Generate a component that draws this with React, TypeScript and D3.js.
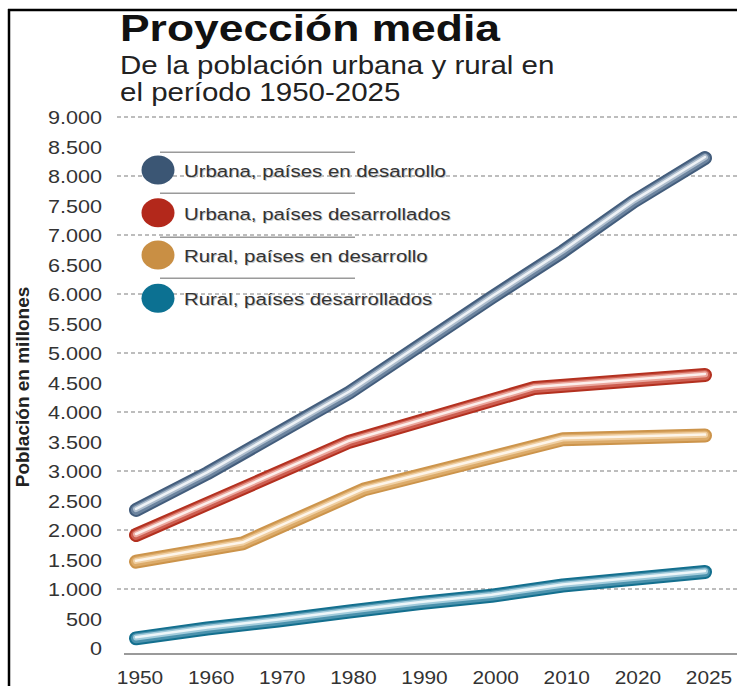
import React from "react";
import * as d3 from "d3";

const W = 737;
const H = 686;

// ---- data ----
const tickYears = [1950, 1960, 1970, 1980, 1990, 2000, 2010, 2020, 2025];
const yTickValues = d3.range(0, 9001, 500);
const gridValues = d3.range(1000, 9001, 1000);

const seriesNames = [
  "Urbana, países en desarrollo",
  "Urbana, países desarrollados",
  "Rural, países en desarrollo",
  "Rural, países desarrollados",
];

const urbanDevelopingYears = [1950, 1960, 1980, 2000, 2010, 2020, 2025];
const urbanDevelopingValues = [2340, 2960, 4330, 5940, 6720, 7570, 8305];

const urbanDevelopedYears = [1950, 1980, 2006, 2025];
const urbanDevelopedValues = [1915, 3497, 4407, 4627];

const ruralDevelopingYears = [1950, 1965, 1982, 2010, 2025];
const ruralDevelopingValues = [1463, 1775, 2685, 3537, 3600];

const ruralDevelopedYears = [1950, 1960, 1970, 1980, 1990, 2000, 2010, 2020, 2025];
const ruralDevelopedValues = [164, 330, 466, 619, 763, 886, 1059, 1174, 1288];

// ---- styles ----
const FONT = "'Liberation Sans', Arial, Helvetica, sans-serif";

const palettes = [
  { legend: "#3b5674", edge: "#435d7c", mid: "#6c849f", light: "#aebdcd", hi: "#eef2f6" },
  { legend: "#b3281b", edge: "#b3301f", mid: "#cd5e50", light: "#eba79d", hi: "#fcefec" },
  { legend: "#c98f44", edge: "#cc944b", mid: "#dcab6a", light: "#f0cfa2", hi: "#fdf5ea" },
  { legend: "#0c7192", edge: "#136f8e", mid: "#4b92ad", light: "#a2cbdb", hi: "#edf6f9" },
];

const seriesData = [
  { years: urbanDevelopingYears, values: urbanDevelopingValues },
  { years: urbanDevelopedYears, values: urbanDevelopedValues },
  { years: ruralDevelopingYears, values: ruralDevelopingValues },
  { years: ruralDevelopedYears, values: ruralDevelopedValues },
];

const X0 = 136;
const X1 = 705;
const xStep = (X1 - X0) / (tickYears.length - 1);
const xScale = d3
  .scaleLinear()
  .domain(tickYears)
  .range(tickYears.map((_, i) => X0 + i * xStep));
const yScale = d3.scaleLinear().domain([0, 9000]).range([648, 117]);

const fmt = d3
  .formatLocale({ decimal: ",", thousands: ".", grouping: [3], currency: ["", ""] })
  .format(",");

const lineGen = d3
  .line<[number, number]>()
  .x((d) => xScale(d[0]))
  .y((d) => yScale(d[1]))
  .curve(d3.curveLinear);

function SText(props: any) {
  const { x, y, sx = 1.2, anchor = "start", children, ...rest } = props;
  return (
    <text
      transform={`translate(${x},${y}) scale(${sx},1)`}
      textAnchor={anchor}
      fontFamily={FONT}
      {...rest}
    >
      {children}
    </text>
  );
}

function Tube({ d, p }: { d: string; p: any }) {
  const common = { d, fill: "none", strokeLinecap: "round" as const, strokeLinejoin: "round" as const };
  return (
    <g>
      <path {...common} stroke={p.edge} strokeWidth={14} />
      <path {...common} stroke={p.mid} strokeWidth={10} />
      <path {...common} stroke={p.light} strokeWidth={6} transform="translate(0,-0.8)" />
      <path {...common} stroke={p.hi} strokeWidth={2.5} transform="translate(0,-1)" />
    </g>
  );
}

export default function App() {
  const legendRowY = [170, 212.7, 255, 298.3];
  const legendSepY = [152.3, 193.3, 237.3, 278.3];

  return (
    <svg
      width={W}
      height={H}
      viewBox={`0 0 ${W} ${H}`}
      style={{ position: "absolute", left: 0, top: 0, display: "block", background: "#fff" }}
    >
      <rect x={0} y={0} width={W} height={H} fill="#fff" />
      {/* frame */}
      <line x1={8} x2={W} y1={10} y2={10} stroke="#000" strokeWidth={2.5} />
      <line x1={9} x2={9} y1={9} y2={H} stroke="#000" strokeWidth={2.5} />

      {/* titles */}
      <SText x={120} y={41} sx={1.2} fontSize={37} fontWeight="bold" fill="#111">
        Proyección media
      </SText>
      <SText x={120} y={74} sx={1.18} fontSize={25} fill="#222">
        De la población urbana y rural en
      </SText>
      <SText x={120} y={101} sx={1.18} fontSize={25} fill="#222">
        el período 1950-2025
      </SText>

      {/* grid */}
      {gridValues.map((v) => (
        <line
          key={v}
          x1={117}
          x2={W}
          y1={yScale(v)}
          y2={yScale(v)}
          stroke="#bdbdbd"
          strokeWidth={2}
          strokeDasharray="4 3"
        />
      ))}

      {/* baseline */}
      <line x1={124} x2={W} y1={654} y2={654} stroke="#9a9a9a" strokeWidth={2} />

      {/* y tick labels */}
      {yTickValues.map((v) => (
        <SText key={v} x={102} y={yScale(v) + 7} anchor="end" sx={1.2} fontSize={18} fill="#333">
          {fmt(v)}
        </SText>
      ))}

      {/* x tick labels */}
      {tickYears.map((yr) => (
        <SText key={yr} x={xScale(yr) + 4} y={683.5} anchor="middle" sx={1.16} fontSize={18} fill="#333">
          {yr}
        </SText>
      ))}

      {/* y axis title */}
      <text
        transform={`translate(29,387) rotate(-90)`}
        textAnchor="middle"
        fontFamily={FONT}
        fontSize={19}
        fontWeight="bold"
        fill="#222"
      >
        Población en millones
      </text>

      {/* legend */}
      {seriesNames.map((name, i) => (
        <g key={name}>
          <line x1={160} x2={355} y1={legendSepY[i]} y2={legendSepY[i]} stroke="#9a9a9a" strokeWidth={1.5} />
          <ellipse cx={158} cy={legendRowY[i]} rx={16.5} ry={14.5} fill={palettes[i].legend} />
          <SText x={185} y={legendRowY[i] + 8} sx={1.2} fontSize={17} fill="#c8c8c8">
            {name}
          </SText>
          <SText x={184} y={legendRowY[i] + 7} sx={1.2} fontSize={17} fill="#333">
            {name}
          </SText>
        </g>
      ))}

      {/* lines */}
      {[3, 2, 1, 0].map((i) => {
        const s = seriesData[i];
        const pts = s.years.map((yr, k) => [yr, s.values[k]] as [number, number]);
        return <Tube key={i} d={lineGen(pts) || ""} p={palettes[i]} />;
      })}
    </svg>
  );
}
